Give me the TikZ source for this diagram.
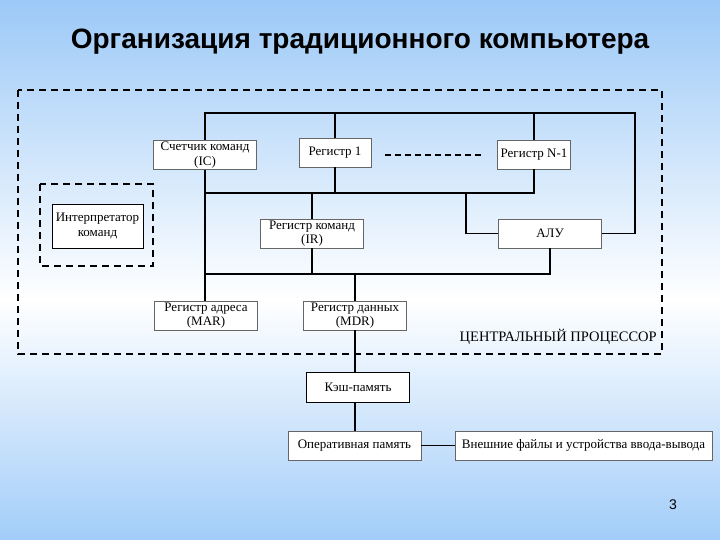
\documentclass[tikz,border=0pt]{standalone}
\usepackage{fontspec}
\setmainfont{Liberation Serif}
\newfontfamily\titlefont{Liberation Sans}
\usetikzlibrary{calc,positioning}

\definecolor{bgBlue}{RGB}{156,201,247}
\definecolor{bgBlueB}{RGB}{162,205,249}

\tikzset{
  regbox/.style={draw=black!60,fill=white,line width=0.7pt,align=center,inner sep=0pt,
    minimum width=103pt,minimum height=29pt,font=\fontsize{13}{14.5}\selectfont},
  bus/.style={line width=1.1pt},
  cpuframe/.style={line width=1.8pt,dash pattern=on 7pt off 5pt}
}

\begin{document}
\begin{tikzpicture}[x=1pt,y=-1pt]
%фон
\shade[top color=bgBlue,bottom color=white] (0,0) rectangle (720,300);
\shade[top color=white,bottom color=bgBlueB] (0,300) rectangle (720,540);
\useasboundingbox (0,0) rectangle (720,540);

\node[font=\titlefont\bfseries\fontsize{28}{30}\selectfont] (nTitle) at (360,42) {Организация традиционного компьютера};

%процессор
\draw[cpuframe] (18,90) rectangle (662,354);
\draw[cpuframe] (40,184) rectangle (153,266);
\node[anchor=south east,inner sep=0pt,font=\fontsize{14.5}{15}\selectfont] (nCPU) at (657,345) {ЦЕНТРАЛЬНЫЙ ПРОЦЕССОР};

\node[regbox,draw=black,minimum width=91pt,minimum height=44pt] (nInterp) at (97.5,226) {Интерпретатор\\команд};
\node[regbox] (nIC) at (205,155) {Счетчик команд\\(IC)};
\node[regbox,minimum width=72pt] (nReg1) at (335,152.5) {Регистр 1};
\node[regbox,minimum width=73pt] (nRegN) at (534,154.5) {Регистр N-1};
\node[regbox] (nIR) at (312,233.5) {Регистр команд\\(IR)};
\node[regbox] (nALU) at (550,233.5) {АЛУ};
\node[regbox] (nMAR) at (206,315.5) {Регистр адреса\\(MAR)};
\node[regbox] (nMDR) at (355,315.5) {Регистр данных\\(MDR)};
\node[regbox,draw=black,minimum height=30pt] (nCache) at (358,387) {Кэш-память};
\node[regbox,minimum width=133pt] (nRAM) at (354.5,445.5) {Оперативная память};
\node[regbox,minimum width=257pt] (nExt) at (583.5,445.5) {Внешние файлы и устройства ввода-вывода};

\coordinate (cTopPt) at (205,113);
\coordinate (cTopRPt) at (635,113);
\coordinate (cMidPt) at (205,193);
\coordinate (cALUPt) at (466,193);
\coordinate (cLowPt) at (205,274);

%шины
\draw[bus] (nIC.north) |- (cTopRPt) |- (nALU.east);
\foreach \v in {nReg1,nRegN}
{
    \draw[bus] (\v.north) -- (\v.north |- cTopPt);
};
\draw[bus] (nRegN.south) |- (cMidPt);
\draw[bus] (nReg1.south) -- (nReg1.south |- cMidPt);
\draw[bus] (nIR.north) -- (nIR.north |- cMidPt);
\draw[bus] (cALUPt) |- (nALU.west);
\draw[bus] (nIC.south) -- (cLowPt);
\draw[bus] (nALU.south) |- (cLowPt) -- (nMAR.north -| cLowPt);
\draw[bus] (nIR.south) -- (nIR.south |- cLowPt);
\draw[bus] (nMDR.north) -- (nMDR.north |- cLowPt);
\draw[bus] (nMDR.south) -- (nMDR.south |- nCache.north);
\draw[bus] (nCache.south -| nMDR.south) -- (nRAM.north -| nMDR.south);
\draw[bus] (nRAM.east) -- (nExt.west);

\draw[line width=1.8pt,dash pattern=on 6pt off 4pt] ($(nReg1.east)+(14,2.5)$) -- ($(nRegN.west)+(-15,0.5)$);

\node[font=\titlefont\fontsize{14}{15}\selectfont] (nPage) at (673,505) {3};
\end{tikzpicture}
\end{document}
